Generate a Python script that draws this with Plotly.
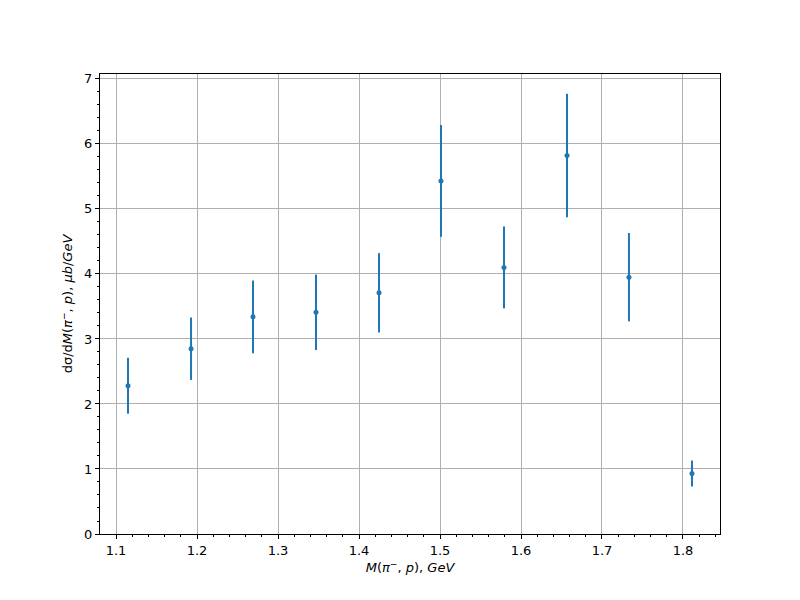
import plotly.graph_objects as go

mass = [1.1148, 1.1926, 1.2691, 1.3469, 1.4247, 1.5012, 1.5790, 1.6568, 1.7333, 1.8111]
xsec = [2.28, 2.85, 3.34, 3.41, 3.71, 5.43, 4.10, 5.82, 3.95, 0.93]
err = [0.43, 0.48, 0.56, 0.58, 0.61, 0.86, 0.63, 0.95, 0.68, 0.20]

x_ticks = [1.1, 1.2, 1.3, 1.4, 1.5, 1.6, 1.7, 1.8]
y_ticks = [0, 1, 2, 3, 4, 5, 6, 7]

color = "#1f77b4"
fig = go.Figure()
fig.add_trace(go.Scatter(
    x=mass, y=xsec, mode="markers",
    marker=dict(color=color, size=5),
    error_y=dict(type="data", array=err, visible=True, color=color, thickness=2, width=0),
    showlegend=False,
))

axis_common = dict(
    showline=True, linecolor="black", linewidth=1, mirror=True,
    ticks="outside", ticklen=4, tickcolor="black", tickwidth=1,
    showgrid=True, gridcolor="#b0b0b0", gridwidth=1, zeroline=False,
    tickfont=dict(family="DejaVu Sans", size=13, color="black"),
    automargin=False,
)

fig.update_xaxes(
    range=[1.0802, 1.8457], tickvals=x_ticks, ticktext=[f"{v:.1f}" for v in x_ticks],
    minor=dict(dtick=0.02, tick0=1.0, ticks="outside", ticklen=2, tickcolor="black", showgrid=False),
    title=dict(text="<i>M</i>(<i>π</i><sup>−</sup>, <i>p</i>), <i>GeV</i>",
               font=dict(family="DejaVu Sans", size=13, color="black"), standoff=6),
    **axis_common,
)
fig.update_yaxes(
    range=[0, 7.075], tickvals=y_ticks, ticktext=[str(v) for v in y_ticks],
    minor=dict(dtick=0.2, tick0=0, ticks="outside", ticklen=2, tickcolor="black", showgrid=False),
    title=dict(text="dσ/d<i>M</i>(<i>π</i><sup>−</sup>, <i>p</i>), <i>μb</i>/<i>GeV</i>",
               font=dict(family="DejaVu Sans", size=13, color="black"), standoff=8),
    **axis_common,
)

fig.update_layout(
    width=800, height=600,
    margin=dict(l=92, r=88, t=66, b=74),
    plot_bgcolor="white", paper_bgcolor="white",
)

fig.write_html("out.html")
